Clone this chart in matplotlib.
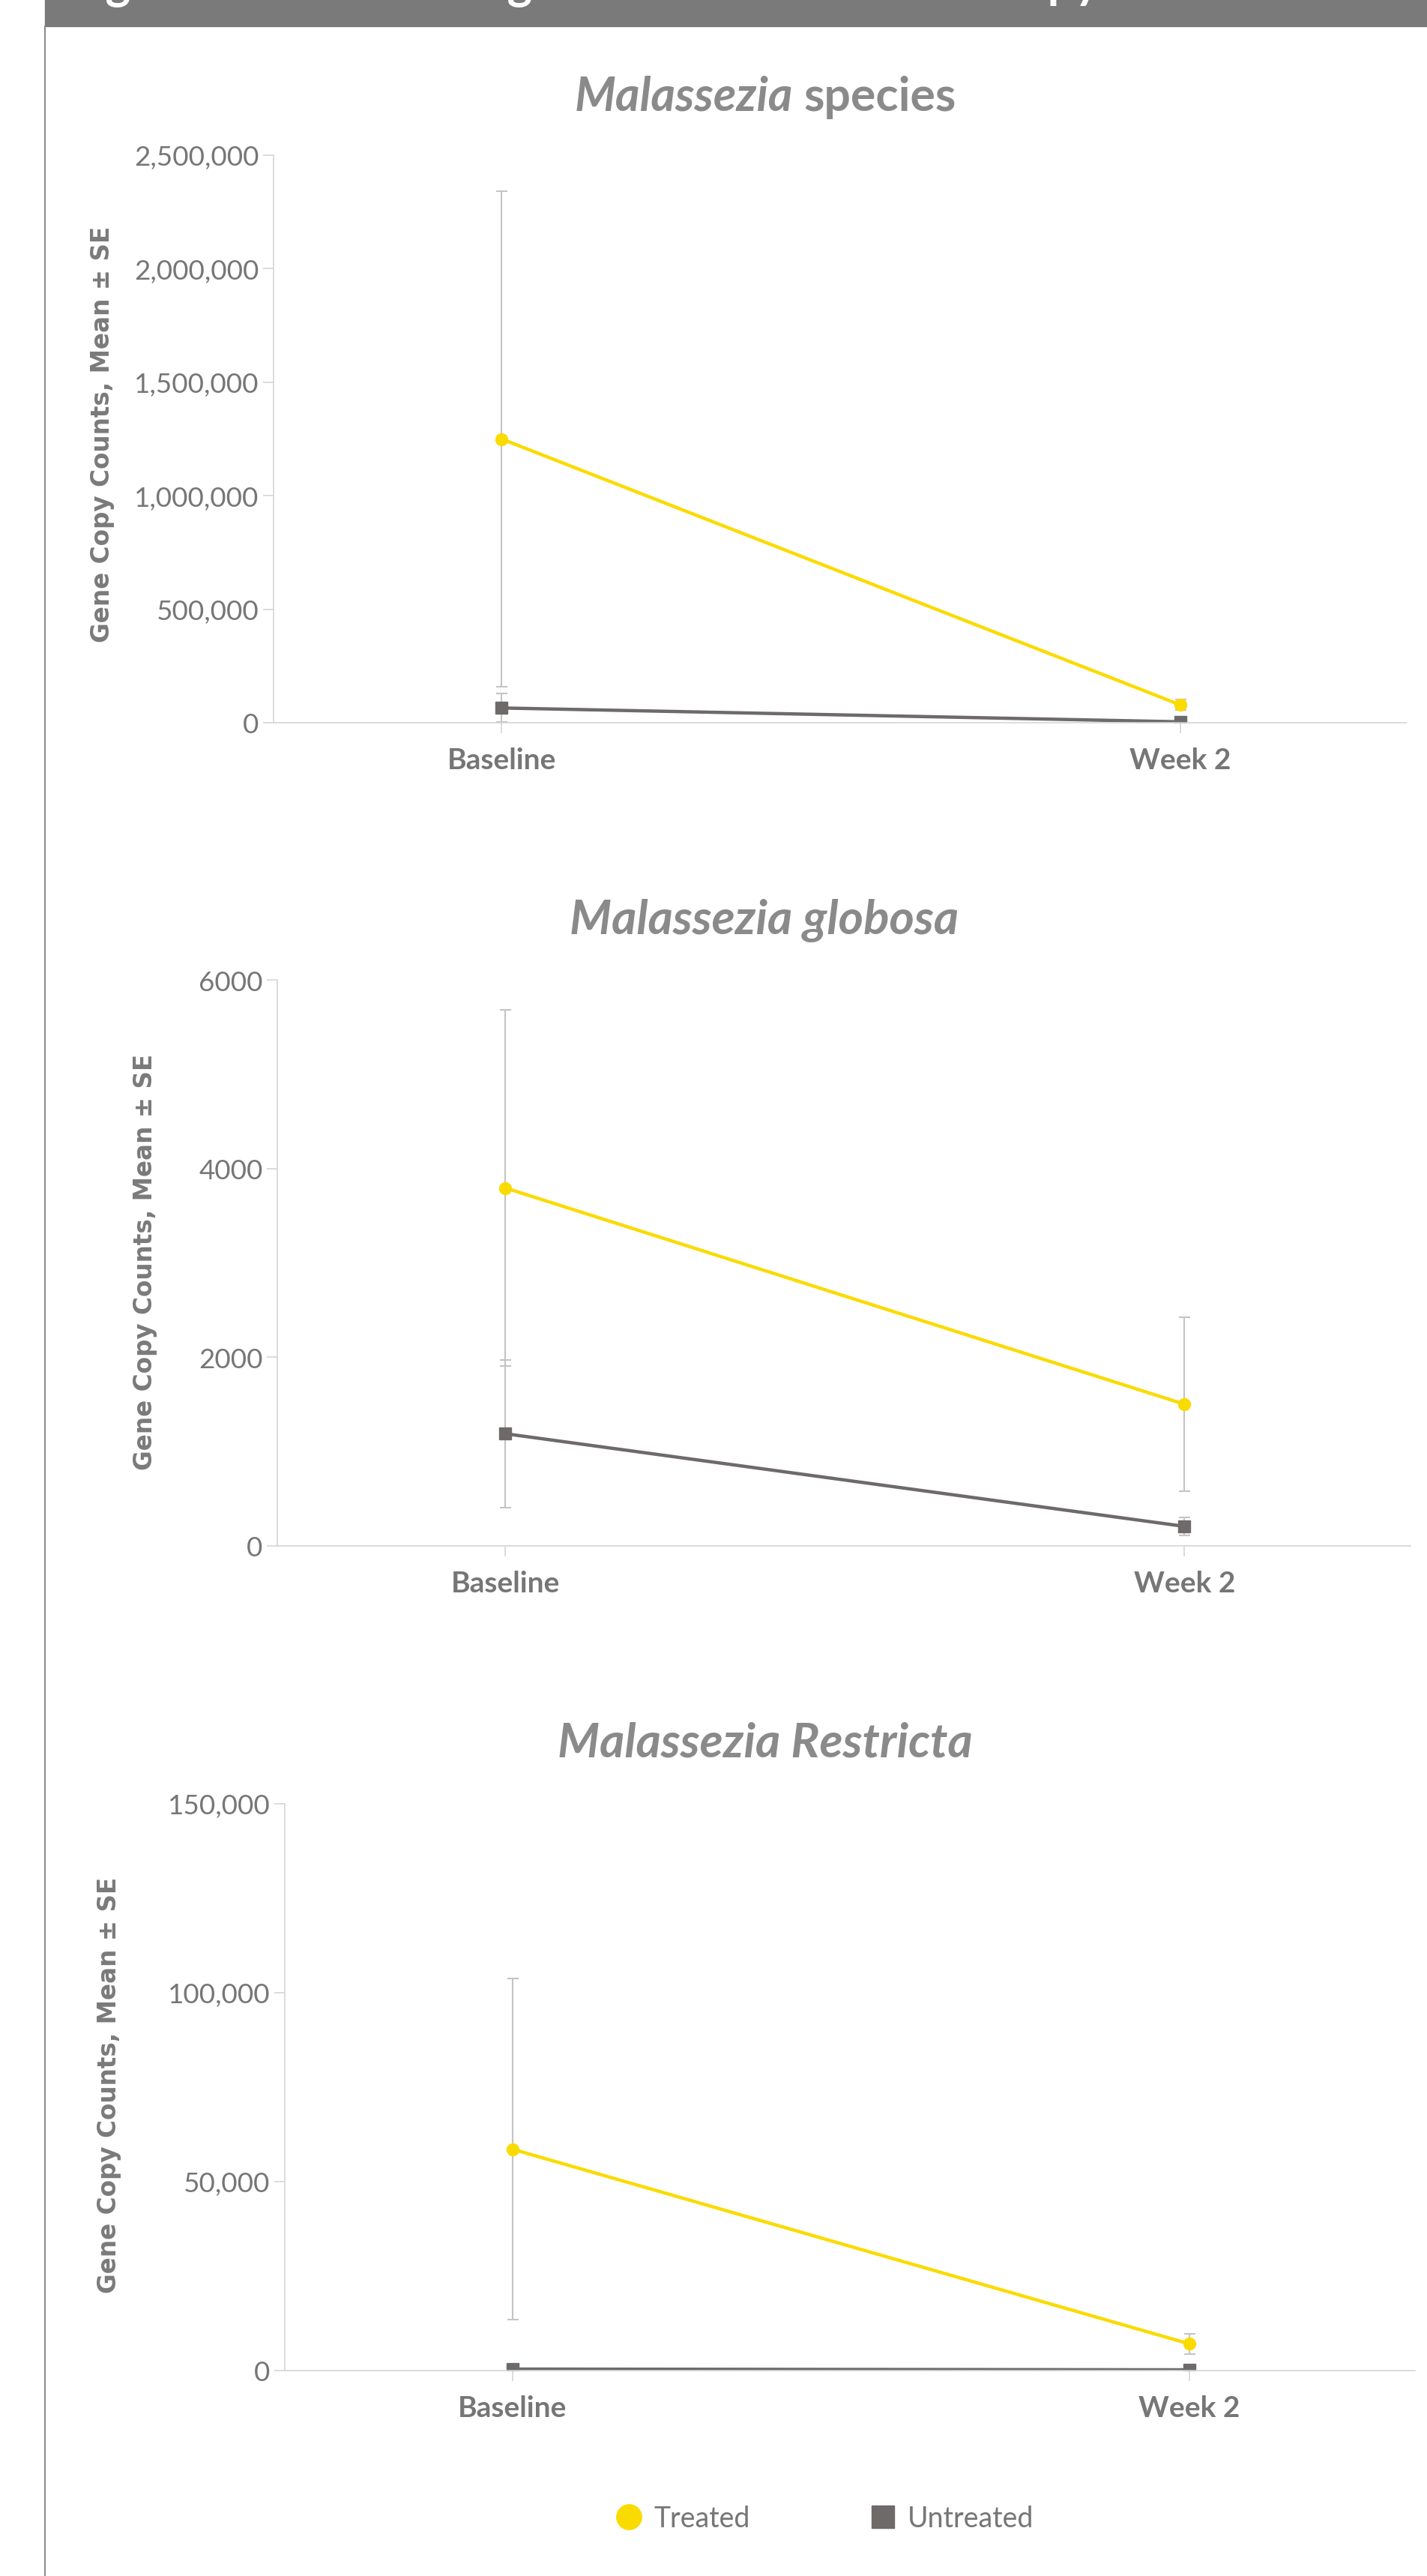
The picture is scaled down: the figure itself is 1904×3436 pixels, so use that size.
import matplotlib.pyplot as plt
from matplotlib.lines import Line2D
from matplotlib.patches import Rectangle

# data
categories = ['Baseline', 'Week 2']

species_treated = [1250000, 79000]
species_treated_se = [1090000, 24000]
species_untreated = [65000, 4000]
species_untreated_se = [63000, 2000]

globosa_treated = [3794, 1502]
globosa_treated_se = [1890, 920]
globosa_untreated = [1189, 207]
globosa_untreated_se = [785, 92]

restricta_treated = [58600, 7060]
restricta_treated_se = [45200, 2600]
restricta_untreated = [400, 200]
restricta_untreated_se = [150, 100]

species_ticks = [0, 500000, 1000000, 1500000, 2000000, 2500000]
species_ticklabels = ['0', '500,000', '1,000,000', '1,500,000', '2,000,000', '2,500,000']
globosa_ticks = [0, 2000, 4000, 6000]
globosa_ticklabels = ['0', '2000', '4000', '6000']
restricta_ticks = [0, 50000, 100000, 150000]
restricta_ticklabels = ['0', '50,000', '100,000', '150,000']

# styles
W, H = 1904, 3437
YELLOW = '#FADB00'
DARK = '#6e6a6a'
ERR = '#c4c4c4'
AXIS = '#d6d6d6'
TICK_TXT = '#767676'
TITLE_TXT = '#8a8a8a'
FONT = 'Lato'

plt.rcParams['font.family'] = [FONT, 'DejaVu Sans']

fig = plt.figure(figsize=(W / 100, H / 100), dpi=100)


def px_box(left, right, top, bottom):
    return [left / W, 1 - bottom / H, (right - left) / W, (bottom - top) / H]


def panel(box, treated, treated_se, untreated, untreated_se, ticks, ticklabels):
    ax = fig.add_axes(px_box(*box))
    x = list(range(len(categories)))
    ax.errorbar(x, treated, yerr=treated_se, fmt='none', ecolor=ERR,
                elinewidth=1.5, capsize=5.4, capthick=1.5, zorder=1)
    ax.errorbar(x, untreated, yerr=untreated_se, fmt='none', ecolor=ERR,
                elinewidth=1.5, capsize=5.4, capthick=1.5, zorder=1)
    ax.plot(x, treated, color=YELLOW, lw=3.2, marker='o', ms=11.5, zorder=3)
    ax.plot(x, untreated, color=DARK, lw=3.2, marker='s', ms=11, zorder=2)

    ax.set_xlim(-0.336, 1.333)
    ax.set_ylim(ticks[0], ticks[-1])
    ax.set_xticks(x)
    ax.set_xticklabels(categories, fontsize=28, fontweight='bold', color=TICK_TXT)
    ax.set_yticks(ticks)
    ax.set_yticklabels(ticklabels, fontsize=26.5, color=TICK_TXT)
    ax.tick_params(axis='y', length=10, width=1.2, color=AXIS, pad=4)
    ax.tick_params(axis='x', length=10, width=1.2, color=AXIS, pad=13)
    for side in ['top', 'right']:
        ax.spines[side].set_visible(False)
    for side in ['left', 'bottom']:
        ax.spines[side].set_color(AXIS)
        ax.spines[side].set_linewidth(1.2)
    ax.patch.set_alpha(0)
    return ax


ax1 = panel((365, 1876, 208, 965), species_treated, species_treated_se,
            species_untreated, species_untreated_se, species_ticks, species_ticklabels)
ax2 = panel((370, 1882, 1308, 2063), globosa_treated, globosa_treated_se,
            globosa_untreated, globosa_untreated_se, globosa_ticks, globosa_ticklabels)
ax3 = panel((380, 1888, 2407, 3163), restricta_treated, restricta_treated_se,
            restricta_untreated, restricta_untreated_se, restricta_ticks, restricta_ticklabels)

# titles
fig.text(1058 / W, 1 - 148 / H, 'Malassezia', fontsize=45, fontweight='bold',
         style='italic', color=TITLE_TXT, ha='right', va='baseline')
fig.text(1072 / W, 1 - 148 / H, 'species', fontsize=45, fontweight='bold',
         color=TITLE_TXT, ha='left', va='baseline')
fig.text(1020 / W, 1 - 1246 / H, 'Malassezia globosa', fontsize=46, fontweight='bold',
         style='italic', color=TITLE_TXT, ha='center', va='baseline')
fig.text(1021 / W, 1 - 2344 / H, 'Malassezia Restricta', fontsize=46, fontweight='bold',
         style='italic', color=TITLE_TXT, ha='center', va='baseline')

# y labels
ylab = 'Gene Copy Counts, Mean \u00b1 SE'
for xc, yc in [(137, 579), (194, 1683), (146, 2781)]:
    fig.text(xc / W, 1 - yc / H, ylab, rotation=90, fontsize=23.5, fontweight='bold',
             color='#7a7a7a', ha='center', va='center', family='DejaVu Sans')

# legend
handles = [Line2D([], [], ls='none', marker='o', ms=24, color=YELLOW),
           Line2D([], [], ls='none', marker='s', ms=21, color=DARK)]
fig.legend(handles, ['Treated', 'Untreated'], loc='center', ncol=2,
           bbox_to_anchor=(1100 / W, 1 - 3360 / H), frameon=False, fontsize=27,
           labelcolor=TICK_TXT, handlelength=1.0, handletextpad=0.4, columnspacing=4.2)

# header band and left rule
fig.add_artist(Rectangle((60 / W, 1 - 36 / H), 1 - 60 / W, 36 / H,
                         transform=fig.transFigure, color='#7a7a7a', zorder=0))
fig.add_artist(Line2D([60 / W, 60 / W], [0, 1 - 36 / H], transform=fig.transFigure,
                      color='#8c8c8c', lw=1.5))
fig.text(88 / W, 1 + 3 / H, 'Figure 3. Mean Change in Malassezia Gene Copy Counts',
         fontsize=46, fontweight='bold', color='white', ha='left', va='baseline')

fig.savefig('out.png', dpi=100)
